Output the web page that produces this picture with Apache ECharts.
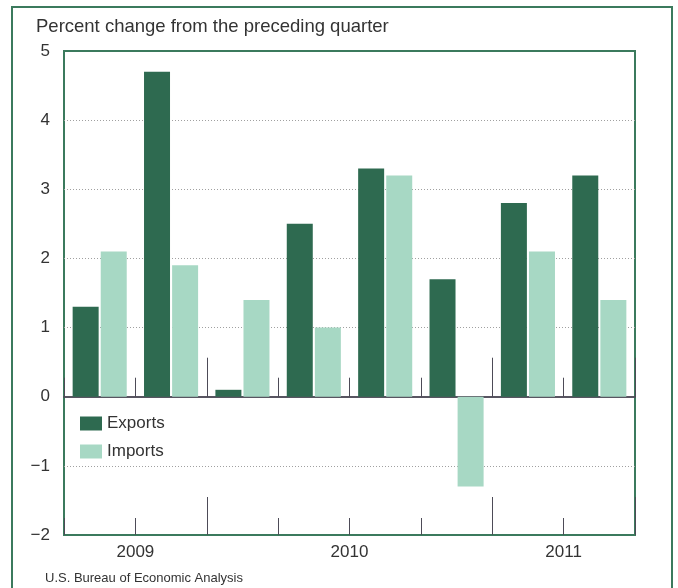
<!DOCTYPE html>
<html>
<head>
<meta charset="utf-8">
<script src="https://cdn.jsdelivr.net/npm/echarts@6/dist/echarts.min.js"></script>
<style>
  html, body { margin: 0; padding: 0; background: #fff; }
  #chart { width: 678px; height: 588px; }
</style>
</head>
<body>
<div id="chart"></div>
<script>
  // quarters shown on the x axis
  var quarters = ['2009 Q3', '2009 Q4', '2010 Q1', '2010 Q2', '2010 Q3', '2010 Q4', '2011 Q1', '2011 Q2']
  // percent change from the preceding quarter
  var exportsData = [1.3, 4.7, 0.1, 2.5, 3.3, 1.7, 2.8, 3.2]
  var importsData = [2.1, 1.9, 1.4, 1.0, 3.2, -1.3, 2.1, 1.4]
  var yTicks = [-2, -1, 0, 1, 2, 3, 4, 5]

  var font = '"Liberation Sans", Arial, Helvetica, sans-serif'
  var green = '#3b7a5d'
  var tickColor = '#4d4b57'

  // year of every quarter, year boundaries and label position (middle of the year)
  var years = quarters.map(function (q) { return q.split(' ')[0] })
  var yearStart = []
  var yearLabel = {}
  years.forEach(function (y, i) {
    if (i > 0 && y !== years[i - 1]) yearStart.push(i)
  })
  var bounds = [0].concat(yearStart).concat([quarters.length])
  for (var b = 0; b < bounds.length - 1; b++) {
    yearLabel[(bounds[b] + bounds[b + 1]) / 2] = years[bounds[b]]
  }

  // no dotted grid line on the frame and on the zero line
  var splitColors = yTicks.map(function (v) {
    return (v === 0 || v === yTicks[0] || v === yTicks[yTicks.length - 1]) ? 'rgba(0,0,0,0)' : '#a0a0a0'
  })

  function catAxis (onZero, zeroAxis, len, interval, showLine) {
    return {
      type: 'category',
      data: quarters,
      position: 'bottom',
      boundaryGap: true,
      axisLine: { show: showLine, onZero: onZero, onZeroAxisIndex: zeroAxis, lineStyle: { color: tickColor, width: 1.5 } },
      axisTick: { show: true, inside: true, length: len, interval: interval, lineStyle: { color: tickColor, width: 1 } },
      axisLabel: { show: false },
      splitLine: { show: false }
    }
  }
  var tallOnly = function (idx) { return yearStart.indexOf(idx) >= 0 }

  var chart = echarts.init(document.getElementById('chart'))
  chart.setOption({
    animation: false,
    backgroundColor: '#fff',
    textStyle: { fontFamily: font },
    title: [{
      text: 'Percent change from the preceding quarter',
      left: 36,
      top: 17,
      padding: 0,
      textStyle: { fontFamily: font, fontSize: 18.5, fontWeight: 'normal', color: '#333' }
    }, {
      text: 'U.S. Bureau of Economic Analysis',
      left: 45,
      top: 572,
      padding: 0,
      textStyle: { fontFamily: font, fontSize: 13, fontWeight: 'normal', color: '#333' }
    }],
    legend: {
      left: 80,
      top: 415,
      orient: 'vertical',
      padding: 0,
      icon: 'rect',
      itemWidth: 22,
      itemHeight: 14,
      itemGap: 11,
      textStyle: { fontFamily: font, fontSize: 17, color: '#333' },
      data: ['Exports', 'Imports']
    },
    grid: {
      left: 64,
      top: 51,
      right: 43,
      bottom: 53,
      show: true,
      borderColor: green,
      borderWidth: 2,
      backgroundColor: 'rgba(0,0,0,0)'
    },
    // outer frame
    graphic: [{
      type: 'rect',
      z: 100,
      shape: { x: 12, y: 7, width: 660, height: 600 },
      style: { fill: null, stroke: green, lineWidth: 2 }
    }],
    xAxis: [
      // zero line with short ticks
      catAxis(true, 0, 19, 0, true),
      // zero line tall ticks at year breaks (sits on the zero of the hidden second y axis)
      catAxis(true, 1, 39, tallOnly, true),
      // bottom short ticks
      catAxis(false, 0, 17, 0, false),
      // bottom tall ticks
      catAxis(false, 0, 38, tallOnly, false),
      // year labels
      {
        type: 'value',
        min: 0,
        max: quarters.length,
        interval: 0.5,
        position: 'bottom',
        axisLine: { show: false, onZero: false },
        axisTick: { show: false },
        splitLine: { show: false },
        axisLabel: {
          margin: 9,
          fontFamily: font,
          fontSize: 17,
          color: '#333',
          formatter: function (v) { return yearLabel[v] || '' }
        }
      }
    ],
    yAxis: [{
      type: 'value',
      min: -2,
      max: 5,
      interval: 1,
      axisLine: { show: false },
      axisTick: { show: false },
      axisLabel: {
        margin: 14,
        fontFamily: font,
        fontSize: 17,
        color: '#333',
        formatter: function (v) { return v < 0 ? '\u2212' + Math.abs(v) : String(v) }
      },
      splitLine: {
        show: true,
        lineStyle: { color: splitColors, type: [1, 2], width: 1 }
      }
    }, {
      type: 'value',
      min: -2,
      max: 5,
      interval: 1,
      position: 'left',
      show: true,
      axisLine: { show: false },
      axisTick: { show: false },
      axisLabel: { show: false },
      splitLine: { show: false }
    }],
    series: [{
      name: 'Exports',
      type: 'bar',
      xAxisIndex: 0,
      yAxisIndex: 0,
      data: exportsData,
      barWidth: 26,
      barGap: '8%',
      itemStyle: { color: '#2e6a50' }
    }, {
      name: 'Imports',
      type: 'bar',
      xAxisIndex: 0,
      yAxisIndex: 0,
      data: importsData,
      barWidth: 26,
      barGap: '8%',
      itemStyle: { color: '#a7d8c4' }
    }]
  })
</script>
</body>
</html>
